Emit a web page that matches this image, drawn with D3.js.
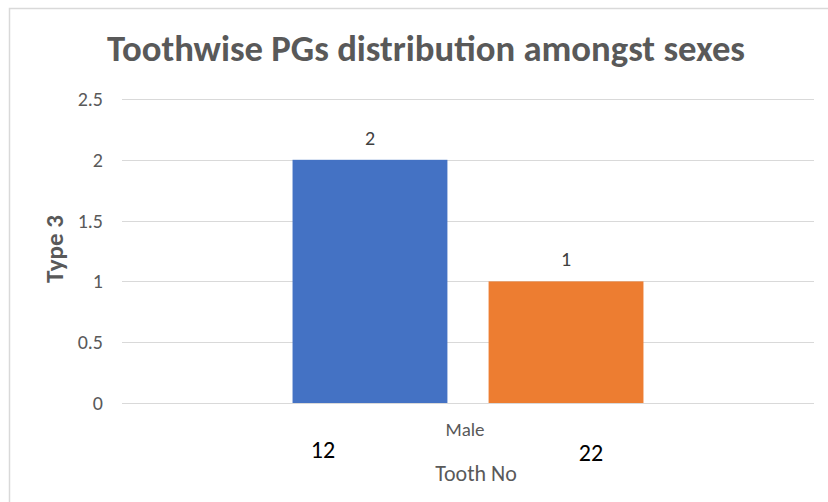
<!DOCTYPE html>
<html>
<head>
<meta charset="utf-8">
<script src="https://cdn.jsdelivr.net/npm/d3@7"></script>
<style>
  html, body { margin: 0; padding: 0; background: #fff; }
  svg { display: block; }
</style>
</head>
<body>
<div class="chart"></div>
<script>
var categories = ["Male"],
    series_names = ["12", "22"],
    series_values = [[2], [1]],
    series_colors = ["#4472C4", "#ED7D31"],
    y_ticks = [0, 0.5, 1, 1.5, 2, 2.5];

var width = 828,
    height = 502,
    plot_left = 122,
    plot_right = 814,
    plot_top = 99,
    plot_bottom = 403,
    font = "Carlito, Calibri, Lato, 'Open Sans', sans-serif",
    text_gray = "#595959";

var svg = d3.select(".chart")
    .append("svg")
    .attr("width", width)
    .attr("height", height);

// outer frame, runs off the right and bottom like the screenshot
svg.append("rect")
    .attr("x", 9.5).attr("y", 8.5)
    .attr("width", 900).attr("height", 600)
    .attr("fill", "#fff")
    .attr("stroke", "#d9d9d9")
    .attr("stroke-width", 1.5);

var y = d3.scaleLinear()
    .domain([0, 2.5])
    .range([plot_bottom, plot_top]);

var x_cat = d3.scaleBand()
    .domain(categories)
    .range([plot_left, plot_right])
    .paddingInner(0)
    .paddingOuter(0.486);

var x_series = d3.scaleBand()
    .domain(series_names)
    .range([0, x_cat.bandwidth()])
    .paddingInner(0.21)
    .paddingOuter(0);

// gridlines
svg.append("g")
    .selectAll("line")
    .data(y_ticks)
    .enter().append("line")
    .attr("x1", plot_left).attr("x2", plot_right)
    .attr("y1", function(d) { return Math.round(y(d)) + 0.5; })
    .attr("y2", function(d) { return Math.round(y(d)) + 0.5; })
    .attr("stroke", "#d9d9d9")
    .attr("stroke-width", 1);

// y axis labels
var y_axis = svg.append("g")
    .attr("transform", "translate(" + (plot_left - 19) + ",0)")
    .call(d3.axisLeft(y).tickValues(y_ticks).tickSize(0).tickPadding(0)
        .tickFormat(function(d) { return String(d); }));
y_axis.select(".domain").remove();
y_axis.selectAll("text")
    .attr("font-family", font)
    .attr("font-size", 20)
    .attr("fill", text_gray);

// bars + value labels
series_names.forEach(function(name, i) {
    svg.append("g")
        .selectAll("rect")
        .data(series_values[i])
        .enter().append("rect")
        .attr("x", function(d, j) { return x_cat(categories[j]) + x_series(name); })
        .attr("width", x_series.bandwidth())
        .attr("y", function(d) { return y(d); })
        .attr("height", function(d) { return y(0) - y(d); })
        .attr("fill", series_colors[i]);

    svg.append("g")
        .selectAll("text")
        .data(series_values[i])
        .enter().append("text")
        .attr("x", function(d, j) { return x_cat(categories[j]) + x_series(name) + x_series.bandwidth() / 2; })
        .attr("y", function(d) { return y(d) - 15; })
        .attr("text-anchor", "middle")
        .attr("font-family", font)
        .attr("font-size", 20)
        .attr("fill", "#404040")
        .text(function(d) { return d; });
});

// category label
svg.append("g")
    .selectAll("text")
    .data(categories)
    .enter().append("text")
    .attr("x", function(d) { return x_cat(d) + x_cat.bandwidth() / 2 - 3; })
    .attr("y", plot_bottom + 33)
    .attr("text-anchor", "middle")
    .attr("font-family", font)
    .attr("font-size", 19)
    .attr("fill", text_gray)
    .text(function(d) { return d; });

// series names under the bars (hand-placed text boxes in the original)
var name_offsets = [-47, 25],
    name_y = [458, 461];
svg.append("g")
    .selectAll("text")
    .data(series_names)
    .enter().append("text")
    .attr("x", function(d, i) { return x_cat(categories[0]) + x_series(d) + x_series.bandwidth() / 2 + name_offsets[i]; })
    .attr("y", function(d, i) { return name_y[i]; })
    .attr("text-anchor", "middle")
    .attr("font-family", font)
    .attr("font-size", 24)
    .attr("fill", "#000")
    .text(function(d) { return d; });

// axis titles
svg.append("text")
    .attr("x", 476).attr("y", 481)
    .attr("text-anchor", "middle")
    .attr("font-family", font)
    .attr("font-size", 22)
    .attr("fill", text_gray)
    .text("Tooth No");

svg.append("text")
    .attr("transform", "translate(63,249) rotate(-90)")
    .attr("text-anchor", "middle")
    .attr("font-family", font)
    .attr("font-size", 25)
    .attr("font-weight", "bold")
    .attr("fill", text_gray)
    .text("Type 3");

// title
svg.append("text")
    .attr("x", 426).attr("y", 61)
    .attr("text-anchor", "middle")
    .attr("font-family", font)
    .attr("font-size", 36)
    .attr("font-weight", "bold")
    .attr("fill", text_gray)
    .attr("textLength", 638)
    .attr("lengthAdjust", "spacingAndGlyphs")
    .text("Toothwise PGs distribution amongst sexes");
</script>
</body>
</html>
